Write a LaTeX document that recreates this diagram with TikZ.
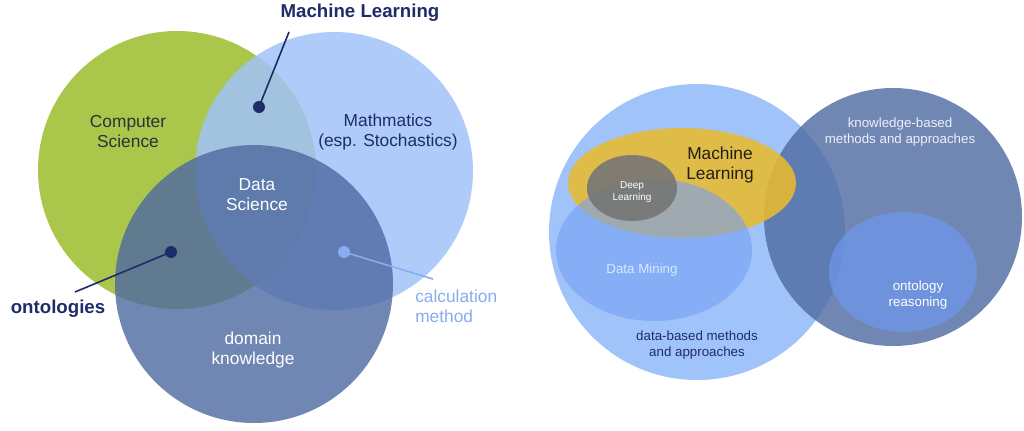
\documentclass[tikz,border=0pt]{standalone}
\usepackage{fontspec}
\setmainfont{Liberation Sans}
\definecolor{csgreen}{RGB}{170,199,76}
\definecolor{mathblue}{RGB}{160,195,250}
\definecolor{domblue}{RGB}{78,105,160}
\definecolor{navy}{RGB}{30,45,105}
\definecolor{calcblue}{RGB}{135,172,240}
\definecolor{mlyellow}{RGB}{232,186,48}
\definecolor{dmblue}{RGB}{115,160,245}
\definecolor{dlgray}{RGB}{118,118,118}
\definecolor{ontblue}{RGB}{110,150,235}
\begin{document}
\begin{tikzpicture}[x=0.75pt,y=0.75pt,yscale=-1,xscale=1,
  lbl/.style={inner sep=0.75pt,align=center,font=\fontsize{13}{15}\selectfont},
  small/.style={inner sep=0.75pt,align=center,font=\fontsize{10}{12}\selectfont},
  dot/.style={circle,inner sep=0pt,minimum size=9pt}]
\useasboundingbox (0,0) rectangle (1024,430);
\fill[white] (0,0) rectangle (1024,430);

% Left Venn diagram
\fill [csgreen] (177,170) circle (139);
\fill [mathblue,fill opacity=0.85] (334,171) circle (139);
\fill [domblue,fill opacity=0.8] (254,284) circle (139);

\node [lbl,text={rgb,255:red,40;green,50;blue,60}] (cs) at (128,132) {Computer\\Science};
\node [lbl,text=navy] (math) at (388,132) {Mathmatics\\(esp. Stochastics)};
\node [lbl,text=white] (ds) at (257,195) {Data\\Science};
\node [lbl,text=white] (dk) at (253,350) {domain\\knowledge};

% Callouts
\node [dot,fill=navy] (mldot) at (259,107) {};
\node [lbl,text=navy,font=\fontsize{14}{16}\selectfont\bfseries] (ml) at (360,13) {Machine Learning};
\coordinate (mlend) at (289,32);
\draw [navy,line width=1.2pt] (mldot.center) -- (mlend);

\node [dot,fill=navy] (ontdot) at (171,252) {};
\node [lbl,text=navy,font=\fontsize{14}{16}\selectfont\bfseries] (ont) at (58,309) {ontologies};
\coordinate (ontend) at (75,292);
\draw [navy,line width=1.2pt] (ontdot.center) -- (ontend);

\node [dot,fill=calcblue] (calcdot) at (344,252) {};
\node [lbl,text=calcblue,anchor=west,align=left] (calc) at (414,306) {calculation\\method};
\coordinate (calcend) at (433,279);
\draw [calcblue,line width=1.2pt] (calcdot.center) -- (calcend);

% Right diagram
\fill [mathblue] (697,232) circle (148);
\fill [domblue,fill opacity=0.8] (893,217) circle (129);
\fill [mlyellow,fill opacity=0.88] (682,183) ellipse (114 and 55);
\fill [dmblue,fill opacity=0.6] (654,250) ellipse (98 and 71);
\fill [dlgray,fill opacity=0.9] (632,188) ellipse (45 and 33);
\fill [ontblue,fill opacity=0.75] (903,272) ellipse (74 and 60);

\node [lbl,text={rgb,255:red,35;green,30;blue,20}] (mlr) at (720,165) {Machine\\Learning};
\node [inner sep=0.75pt,align=center,font=\fontsize{7.5}{9}\selectfont,text=white] (dl) at (632,192) {Deep\\Learning};
\node [small,text={rgb,255:red,220;green,232;blue,252}] (dm) at (642,270) {Data Mining};
\node [small,text=navy] (db) at (697,345) {data-based methods\\and approaches};
\node [small,text={rgb,255:red,235;green,240;blue,250}] (kb) at (900,132) {knowledge-based\\methods and approaches};
\node [small,text=white] (or) at (918,295) {ontology\\reasoning};
\end{tikzpicture}
\end{document}
